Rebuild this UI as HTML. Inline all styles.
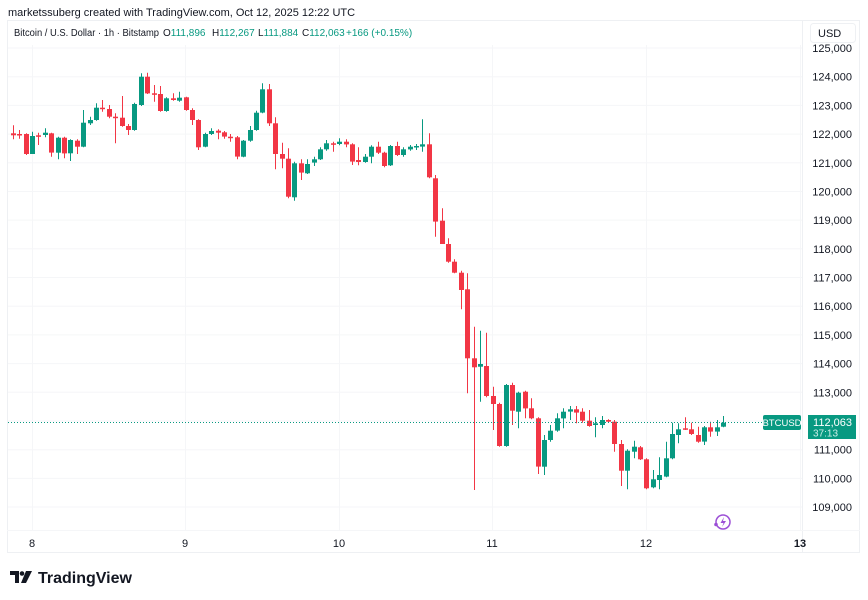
<!DOCTYPE html>
<html><head><meta charset="utf-8">
<style>
body{margin:0;background:#fff;width:868px;height:600px;overflow:hidden;font-family:"Liberation Sans",sans-serif;}
svg{position:absolute;left:0;top:0}
</style></head>
<body>
<svg id="s" width="868" height="600" xmlns="http://www.w3.org/2000/svg" font-family="Liberation Sans, sans-serif"></svg>
<script>
var G='#089981',R='#f23645';
var a=[
[220,226,196,238],[222,225,210,236],[222,282,220,285],[282,228,215,282],[226,228,218,255],[225,218,205,232],[220,278,218,290],[278,233,230,298],[233,280,230,295],[280,240,238,303],
[242,260,238,282],[260,188,150,262],[190,180,170,195],[180,143,130,182],[143,147,120,155],[147,170,135,175],[170,173,160,250],[173,198,108,200],[198,210,192,225],[210,132,128,212],
[135,50,40,138],[50,100,38,102],[100,102,75,125],[102,153,78,155],[153,115,112,155],[115,120,100,122],[122,113,95,125],[112,150,110,152],[150,180,145,195],[180,262,178,270],
[260,222,218,262],[222,213,205,225],[212,218,208,238],[217,230,213,236],[230,232,222,245],[232,290,228,298],[290,242,240,292],[242,210,198,245],[210,158,152,212],[158,88,70,160],
[88,190,72,198],[190,282,172,328],[282,296,248,325],[296,410,265,415],[412,310,305,422],[310,338,298,360],[340,312,298,342],[308,298,290,318],[298,268,262,300],[268,250,240,272],
[250,253,245,275],[252,245,235,256],[245,253,238,262],[253,305,250,315],[300,306,262,316],[306,290,282,308],[290,260,256,310],[260,278,245,282],[278,318,275,322],[316,258,255,318],
[258,285,245,288],[285,268,262,290],[268,260,255,272],[262,258,252,270],[260,253,178,275],[253,352,220,355]];
var b=[
[205,335,195,380],[332,402,295,402],[402,455,385,458],[455,488,448,490],[488,540,482,598],[538,745,490,850],[745,772,650,1140],[770,762,662,875],[768,858,668,862],[858,882,830,960],
[882,1008,878,1010],[1008,825,822,1010],[825,902,818,945],[905,848,845,955],[845,895,842,925],[895,925,865,928],[925,1070,922,1092],[1070,990,975,1095],[990,962,945,995],[962,925,910,965],
[925,905,895,955],[905,898,888,930],[898,908,888,940],[905,932,895,938],[932,948,900,950],[945,940,922,982],[945,930,918,955],[930,935,928,938],[935,1002,930,1025],[1002,1082,990,1128],
[1082,1022,1018,1138],[1025,1010,992,1045],[1012,1048,1008,1050],[1048,1135,1045,1138],[1132,1108,1080,1135],[1110,1095,1042,1138],[1100,1045,995,1102],[1045,972,938,1048],[975,958,940,1000],[955,958,922,960],
[958,972,938,975],[975,995,950,998],[995,952,948,1005],[952,965,935,980],[965,952,930,978],[950,938,918,952]];
var d=[];
a.forEach(function(c){d.push(c.map(function(v){return 60+v/3;}));});
b.forEach(function(c){d.push(c.map(function(v){return 110+v/3;}));});
var h='';
h+='<rect x="7.5" y="20.5" width="852" height="532" fill="none" stroke="#eef0f3"/>';
h+='<line x1="802.5" y1="20" x2="802.5" y2="553" stroke="#eef0f3"/>';
h+='<line x1="7" y1="530.5" x2="860" y2="530.5" stroke="#f5f6f8"/>';
var days=[[32,'8'],[185,'9'],[339,'10'],[492,'11'],[646,'12'],[800,'13']];
days.forEach(function(t){ if(t[0]<802) h+='<line x1="'+t[0]+'.5" y1="45" x2="'+t[0]+'.5" y2="530" stroke="#f5f6f8"/>';});
for(var k=0;k<=16;k++){var y=48+k*28.69;h+='<line x1="8" y1="'+y.toFixed(1)+'" x2="802" y2="'+y.toFixed(1)+'" stroke="#f5f6f8"/>';
 var p=125-k; if(p!=112) h+='<text x="852" y="'+(y+4).toFixed(1)+'" font-size="11" fill="#131722" text-anchor="end">'+p+',000</text>';}
days.forEach(function(t){h+='<text x="'+t[0]+'" y="547" font-size="11" fill="#131722" text-anchor="middle"'+(t[1]=='13'?' font-weight="bold"':'')+'>'+t[1]+'</text>';});
d.forEach(function(c,i){var x=Math.round(12.7+i*6.4)+0.5;var col=c[1]>c[0]?R:G;if(i==72)col=R;
 var top=Math.min(c[0],c[1]),bot=Math.max(c[0],c[1]);if(bot-top<1.5)bot=top+1.5;
 h+='<line x1="'+x+'" y1="'+c[2].toFixed(1)+'" x2="'+x+'" y2="'+c[3].toFixed(1)+'" stroke="'+col+'" stroke-width="1"/>';
 h+='<rect x="'+(x-2.5)+'" y="'+top.toFixed(1)+'" width="5" height="'+(bot-top).toFixed(1)+'" fill="'+col+'"/>';});
h+='<line x1="8" y1="422.5" x2="802" y2="422.5" stroke="'+G+'" stroke-dasharray="1,2"/>';
h+='<rect x="763" y="415" width="38" height="15" rx="2" fill="'+G+'"/><text x="782" y="426" font-size="9.5" fill="#fff" text-anchor="middle">BTCUSD</text>';
h+='<rect x="808" y="415" width="48" height="24" fill="'+G+'"/><text x="852" y="426" font-size="11" fill="#fff" text-anchor="end">112,063</text><text x="813" y="436.5" font-size="10" fill="#cdeee8">37:13</text>';
h+='<rect x="810.5" y="23.5" width="45" height="19" rx="3" fill="#fff" stroke="#eef0f3"/><text x="818" y="37" font-size="11" fill="#131722">USD</text>';
h+='<text x="8" y="16" font-size="11" fill="#131722">marketssuberg created with TradingView.com, Oct 12, 2025 12:22 UTC</text>';
h+='<text y="36" font-size="10" fill="#131722"><tspan x="14" textLength="145" lengthAdjust="spacingAndGlyphs">Bitcoin / U.S. Dollar · 1h · Bitstamp</tspan><tspan x="163">O</tspan><tspan fill="'+G+'">111,896</tspan><tspan x="212">H</tspan><tspan fill="'+G+'">112,267</tspan><tspan x="258">L</tspan><tspan fill="'+G+'">111,884</tspan><tspan x="302">C</tspan><tspan fill="'+G+'">112,063</tspan><tspan x="346" fill="'+G+'">+166 (+0.15%)</tspan></text>';
h+='<circle cx="723" cy="522" r="7" fill="none" stroke="#9c4fd6" stroke-width="1.5"/><path d="M724 517 L720.5 523 L723.5 523 L722 527 L726 521 L723 521 Z" fill="#9c4fd6"/><circle cx="716" cy="524.5" r="1.8" fill="#9c4fd6"/>';
h+='<path d="M10 571 h9 v12 h-4 v-8 h-5 z" fill="#131722"/><circle cx="22" cy="573.5" r="2.3" fill="#131722"/><path d="M26 571 h6 l-6 12 h-5 z" fill="#131722"/>';
h+='<text x="38" y="583" font-size="16" font-weight="bold" fill="#131722">TradingView</text>';
document.getElementById('s').innerHTML=h;
</script>
</body></html>
